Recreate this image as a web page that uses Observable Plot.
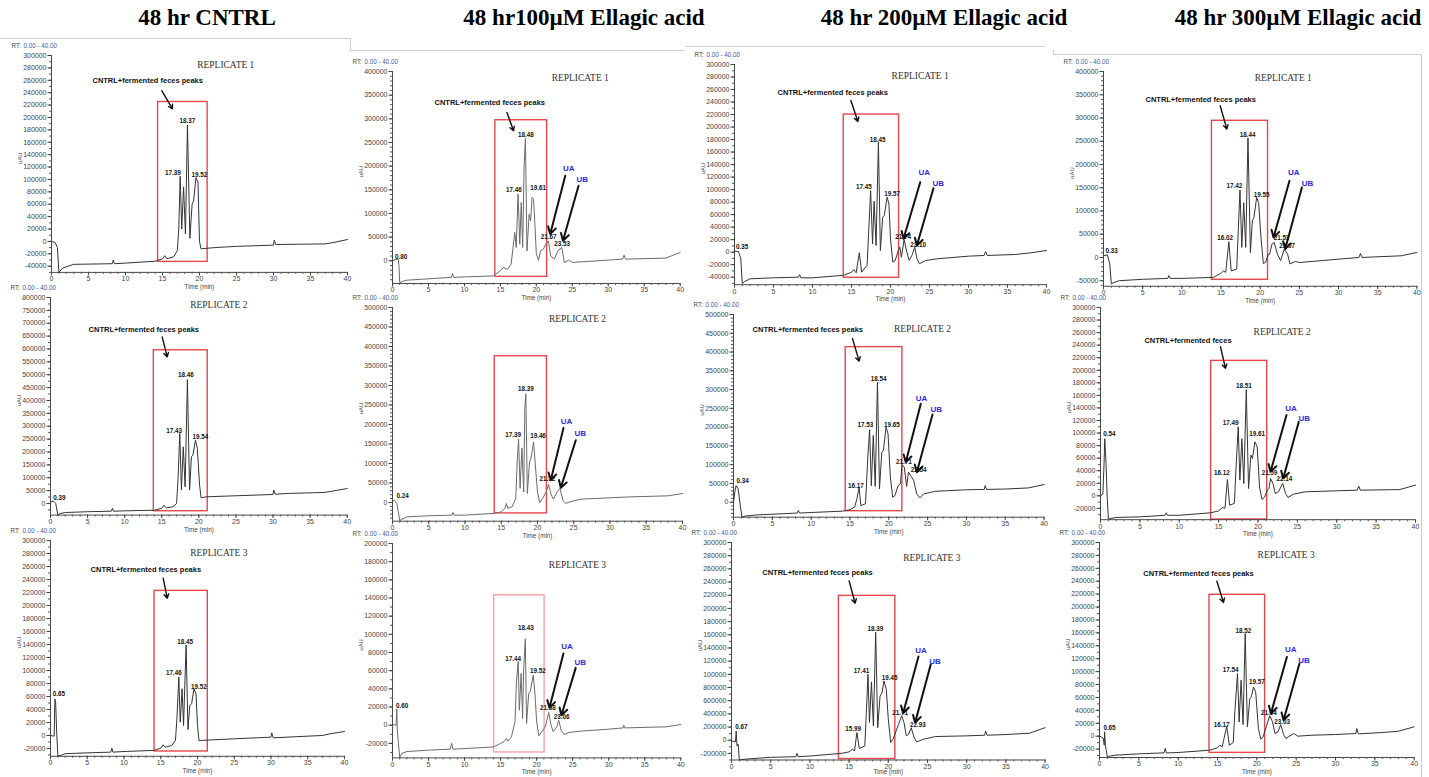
<!DOCTYPE html>
<html><head><meta charset="utf-8">
<script src="https://cdn.jsdelivr.net/npm/d3@7"></script>
<script src="https://cdn.jsdelivr.net/npm/@observablehq/plot@0.6"></script>
<style>
body{margin:0;background:#fff;}
#fig{position:relative;width:1429px;height:777px;overflow:hidden;background:#fff;}
.hdr{position:absolute;top:5px;font-family:"Liberation Serif","Times New Roman",serif;font-weight:bold;font-size:23px;color:#000;white-space:nowrap;transform:translateX(-50%);}
.gl{position:absolute;background:#cfcfcf;}
.pn{position:absolute;}
</style></head><body><div id="fig"></div>
<script>
// ---------- DATA ----------
const columnTitles = ["48 hr CNTRL", "48 hr100µM Ellagic acid", "48 hr 200µM Ellagic acid", "48 hr 300µM Ellagic acid"];
const replicateTitles = ["REPLICATE 1", "REPLICATE 2", "REPLICATE 3"];
const xMajorTicks = [0, 5, 10, 15, 20, 25, 30, 35, 40];
const xMinorTicks = d3.range(0, 41, 1);
const noteText = "CNTRL+fermented feces peaks";

// y axis: [min, max, labelled step, minor step]
const yAxis00 = [-50000, 300000, 20000, 10000];
const yAxis01 = [-48000, 400000, 50000, 10000];
const yAxis02 = [-52000, 300000, 20000, 10000];
const yAxis03 = [-62000, 400000, 50000, 10000];
const yAxis10 = [-45000, 800000, 50000, 25000];
const yAxis11 = [-48000, 500000, 50000, 10000];
const yAxis12 = [-40000, 500000, 50000, 10000];
const yAxis13 = [-38000, 300000, 20000, 10000];
const yAxis20 = [-32000, 300000, 20000, 10000];
const yAxis21 = [-36000, 200000, 20000, 10000];
const yAxis22 = [-30000, 300000, 20000, 10000];
const yAxis23 = [-33000, 300000, 20000, 10000];
const tickLabels22 = ["-200000","0","200000","400000","600000","800000","100000","120000","140000","160000","180000","200000","220000","240000","260000","280000","300000"];

// traces [time (min), uAU]
const trace00 = [[0,0],[0.5,-2000],[0.8,-10000],[1.0,-50000],[1.5,-43000],[3,-37000],[8.2,-36000],[8.35,-30000],[8.5,-36000],[10,-35000],[14,-32000],[15,-28000],[15.3,-23000],[15.6,-28000],[16.5,-25000],[17,-15000],[17.2,20000],[17.39,105000],[17.6,20000],[17.85,88000],[18.1,12000],[18.37,188000],[18.7,5000],[19.0,60000],[19.2,65000],[19.52,103000],[19.8,95000],[20.0,0],[20.2,-12000],[22,-10000],[25,-8000],[30,-6000],[30.1,2000],[30.3,-5000],[37,-4000],[38,-2000],[40,3000]];
const trace01 = [[0,0],[0.5,3000],[0.8,3000],[0.9,-10000],[1.0,-46000],[1.3,-44000],[2,-41000],[8.2,-35000],[8.35,-27000],[8.5,-35000],[14,-32000],[15,-21000],[15.4,-14000],[16,-18000],[16.5,-7000],[17,60000],[17.2,28000],[17.46,141000],[17.7,35000],[17.9,123000],[18.1,28000],[18.3,200000],[18.48,259000],[18.7,21000],[19.0,98000],[19.2,84000],[19.4,134000],[19.61,130000],[19.8,77000],[20.0,14000],[20.3,1000],[20.6,21000],[21.0,25000],[21.3,35000],[21.67,42000],[22.0,10000],[22.5,3500],[23.0,21000],[23.53,28000],[23.9,-3500],[24.5,1400],[25,-3500],[30,1400],[32,3500],[32.2,12000],[32.4,3500],[38,5600],[40,17600]];
const trace02 = [[0,1600],[0.5,1000],[0.8,-10000],[1.0,-50000],[1.3,-47000],[2,-42600],[5,-41000],[8.2,-40000],[8.35,-36000],[8.5,-41000],[10,-41000],[13,-38000],[14,-37000],[15,-32000],[15.3,-28000],[15.6,-33000],[16.0,-1000],[16.3,-32000],[17,-21000],[17.2,32000],[17.45,98500],[17.7,13000],[17.9,81500],[18.15,10600],[18.45,176000],[18.7,2600],[19.0,56000],[19.2,58600],[19.57,88000],[19.8,77000],[20.0,21000],[20.3,-16000],[20.6,-13300],[21.0,2600],[21.2,8000],[21.4,-8000],[21.74,20000],[22.1,0],[22.4,-13300],[22.8,-4000],[23.1,8000],[23.4,-10600],[23.7,-18600],[24.5,-13300],[26,-10600],[30,-6400],[32,-5300],[32.2,1000],[32.4,-5300],[36,-3700],[38,-1000],[40,2600]];
const trace03 = [[0,3600],[0.5,5700],[0.8,-14000],[1.0,-57000],[1.3,-54000],[2,-50000],[5,-47000],[8.2,-45000],[8.35,-39000],[8.5,-45000],[10,-45000],[14,-43000],[15,-34000],[15.3,-29000],[15.6,-32000],[16.0,34000],[16.3,-29000],[17,-25000],[17.2,57000],[17.42,145000],[17.65,21500],[17.9,118000],[18.15,21500],[18.44,257000],[18.75,10700],[19.0,79000],[19.2,86000],[19.55,129000],[19.8,118000],[20.1,43000],[20.4,-13000],[20.7,-10700],[21.0,5700],[21.2,7000],[21.5,28700],[21.8,32000],[22.2,7000],[22.6,-7000],[23.07,18000],[23.5,7000],[23.8,-14000],[24.5,-8600],[25,-11000],[30,-3600],[32.6,0],[32.8,8600],[33,0],[38,3600],[40,10700]];
const trace10 = [[0,6500],[0.39,9000],[0.7,0],[1.0,-45000],[1.3,-39000],[2,-35000],[5,-32000],[8.2,-30000],[8.35,-19000],[8.5,-30000],[10,-28500],[14,-26000],[15,-19000],[15.3,-6500],[15.6,-17000],[16.5,-13000],[17,0],[17.2,97000],[17.43,272000],[17.65,52000],[17.9,220000],[18.15,65000],[18.46,481000],[18.75,52000],[19.0,181000],[19.2,188000],[19.54,246000],[19.8,214000],[20.1,71000],[20.3,22000],[21,26000],[25,30000],[30,35000],[30.1,52000],[30.3,36000],[32,39000],[37,43000],[38,48000],[40,58000]];
const trace11 = [[0,1700],[0.24,6000],[0.6,-2600],[0.8,-24000],[1.0,-47000],[1.3,-43000],[2,-37000],[5,-34000],[8.2,-32500],[8.35,-25600],[8.5,-32500],[10,-32500],[14,-28000],[15,-24000],[15.5,-15000],[15.7,-2600],[15.9,-15000],[16.5,-11000],[17,10000],[17.2,104000],[17.39,162000],[17.6,36000],[17.85,140000],[18.1,27000],[18.25,241000],[18.39,279000],[18.6,23000],[18.9,104000],[19.1,113000],[19.46,155000],[19.7,96000],[20.0,27000],[20.3,0],[20.7,10000],[21.2,27000],[21.52,46000],[21.9,19000],[22.2,8500],[22.7,27000],[23.1,36000],[23.5,6000],[23.9,-2600],[24.5,1700],[26,8500],[30,12000],[33,14500],[38,17000],[40,23000]];
const trace12 = [[0,0],[0.2,31000],[0.34,44000],[0.6,35500],[0.9,-13000],[1.1,-40000],[1.5,-37000],[3,-34000],[8.2,-29000],[8.35,-22000],[8.5,-29000],[10,-27500],[14,-24000],[15,-20000],[15.6,-13000],[15.9,9000],[16.17,40000],[16.4,-9000],[17,-4400],[17.3,120000],[17.53,193000],[17.75,44000],[18.0,178000],[18.25,42000],[18.54,320000],[18.8,35500],[19.1,133000],[19.3,138000],[19.65,200000],[19.9,182000],[20.2,67000],[20.5,13000],[20.8,18000],[21.2,44000],[21.5,49000],[21.71,100000],[22.0,93000],[22.3,42000],[22.54,80000],[22.9,68000],[23.2,58000],[23.6,22000],[24.0,11500],[24.5,22000],[26,29000],[30,33000],[32.3,34000],[32.4,44000],[32.6,34000],[35,35000],[38,38000],[40,47000]];
const trace13 = [[0,0],[0.3,2600],[0.45,51500],[0.54,91000],[0.7,51500],[0.85,-1600],[1.0,-37000],[1.3,-36000],[2,-34500],[5,-33500],[8.2,-31000],[8.35,-27000],[8.5,-31000],[10,-31000],[14,-27000],[15,-24000],[15.5,-18600],[15.8,-20000],[16.12,26000],[16.4,-15000],[17,-12000],[17.2,41000],[17.49,110000],[17.7,25000],[17.95,91000],[18.2,19600],[18.51,169000],[18.8,11700],[19.1,65000],[19.3,59500],[19.61,86000],[19.9,78000],[20.2,14000],[20.5,-5800],[20.8,-2600],[21.2,9000],[21.4,11700],[21.59,27600],[21.9,19600],[22.2,3700],[22.6,6400],[22.9,14000],[23.14,19600],[23.5,3700],[23.8,-2600],[24.5,2600],[26,6400],[30,8000],[32.6,9000],[32.8,15400],[33,9000],[38,10000],[40,17000]];
const trace20 = [[0,0],[0.5,-1000],[0.6,56000],[0.7,51000],[0.85,2600],[1.0,-31500],[1.3,-31000],[2,-28000],[5,-26700],[8.2,-25600],[8.35,-19500],[8.5,-25600],[10,-24600],[14,-23000],[15,-19500],[15.3,-14400],[15.6,-18000],[16.5,-15400],[17,-7700],[17.2,25600],[17.46,90000],[17.65,20500],[17.9,72000],[18.1,15400],[18.45,139500],[18.7,9200],[18.95,46000],[19.2,49000],[19.52,72000],[19.8,64000],[20.0,15400],[20.2,-7700],[22,-6700],[25,-5100],[30,-2600],[30.1,4100],[30.3,-3600],[35,-1000],[37,0],[38,2600],[40,6100]];
const trace21 = [[0,700],[0.5,0],[0.6,18000],[0.65,-3600],[0.8,-18000],[1.0,-35500],[1.3,-31000],[2,-29000],[5,-27500],[8.0,-26400],[8.2,-20000],[8.4,-26400],[10,-25700],[14,-24000],[15,-20000],[15.5,-18000],[15.8,-14700],[16.0,-17500],[16.5,-12800],[17,3700],[17.2,47700],[17.44,70000],[17.6,16500],[17.85,57000],[18.05,7300],[18.2,62000],[18.43,95000],[18.6,1800],[18.9,35000],[19.1,36700],[19.52,55000],[19.75,36700],[20.0,3700],[20.3,-11700],[20.7,-7300],[21.2,-1800],[21.68,14000],[22.0,0],[22.3,-7300],[22.8,-1800],[23.06,5500],[23.4,-5500],[23.8,-10300],[24.5,-8000],[26,-6600],[30,-4400],[32,-3000],[32.1,0],[32.2,-3000],[38,-1800],[40,700]];
const trace22 = [[0,-1000],[0.5,-2500],[0.6,14000],[0.7,-8600],[0.85,-6000],[1.0,-30000],[1.3,-29500],[2,-28500],[5,-26000],[8.2,-25000],[8.35,-20000],[8.5,-25000],[10,-24000],[14,-20000],[15,-17700],[15.4,-13700],[15.7,-16000],[15.99,11600],[16.3,-12600],[17,-8600],[17.2,42000],[17.41,100000],[17.6,27000],[17.85,88500],[18.1,21700],[18.39,164000],[18.65,19000],[18.95,67000],[19.2,72000],[19.45,90000],[19.75,77000],[20.0,32000],[20.3,-3500],[20.6,1500],[21.0,14000],[21.3,24000],[21.71,37000],[22.0,27000],[22.3,6600],[22.6,9000],[22.93,19000],[23.3,4000],[23.6,-2500],[24.5,1500],[26,5600],[30,6600],[32.3,7600],[32.4,14000],[32.6,7600],[35,8600],[38,10600],[40,19000]];
const trace23 = [[0,500],[0.5,-3600],[0.6,-14000],[0.65,6700],[0.75,-14000],[1.0,-32500],[1.3,-31000],[2,-29400],[5,-27400],[8.2,-25800],[8.35,-19000],[8.5,-26000],[10,-25300],[14,-21700],[15,-18000],[15.3,-14000],[15.6,-16500],[16.17,15500],[16.5,-14000],[17,-9800],[17.2,37700],[17.54,97000],[17.75,22000],[18.0,86700],[18.25,18000],[18.52,159000],[18.8,14500],[19.1,58000],[19.3,61000],[19.57,76000],[19.85,68700],[20.2,11900],[20.5,-4600],[20.8,-1000],[21.2,14500],[21.64,31500],[22.0,22000],[22.3,4100],[22.7,6700],[23.03,18000],[23.4,2600],[23.7,-3600],[24.2,500],[24.7,4100],[25.2,0],[27,1500],[30,2600],[32.6,4100],[32.7,11900],[32.9,3600],[36,5700],[38,7700],[40,14500]];

// highlight boxes [t1, t2, v1, v2]
const box00 = [14.4, 21.1, -33000, 225000];
const box01 = [14.3, 21.5, -34000, 297000];
const box02 = [14.0, 21.1, -41000, 220000];
const box03 = [13.84, 21.0, -48000, 294000];
const box10 = [13.93, 21.2, -30000, 595000];
const box11 = [14.1, 21.3, -28000, 375000];
const box12 = [14.45, 21.75, -24000, 413000];
const box13 = [14.05, 21.17, -37700, 215000];
const box20 = [14.15, 21.4, -24600, 222500];
const box21 = [14.1, 21.1, -30000, 143000];
const box22 = [13.7, 20.9, -28500, 219000];
const box23 = [13.98, 21.05, -25800, 219000];

// replicate title anchors [t, v]
const title00 = [23.55, 285500], title01 = [26.1, 385400], title02 = [23.8, 281300], title03 = [22.94, 385800];
const title10 = [22.69, 772800], title11 = [25.52, 471800], title12 = [24.34, 462000], title13 = [23.07, 260300];
const title20 = [22.9, 281100], title21 = [25.66, 176200], title22 = [25.55, 276200], title23 = [23.73, 281400];

// annotation text [t, v, text] and its arrow [t1, v1, t2, v2]
const note00 = [13.0, 259600, noteText], noteArrow00 = [14.9, 243300, 16.35, 214000];
const note01 = [13.52, 334000, noteText], noteArrow01 = [15.91, 313500, 16.83, 274800];
const note02 = [12.59, 255800, noteText], noteArrow02 = [14.92, 242500, 15.82, 208900];
const note03 = [12.41, 338500, noteText], noteArrow03 = [14.89, 326200, 15.75, 276100];
const note10 = [12.58, 676900, noteText], noteArrow10 = [15.06, 647000, 15.73, 569300];
const note12 = [9.57, 459400, noteText], noteArrow12 = [15.33, 435400, 16.18, 375700];
const note13 = [11.11, 246900, "CNTRL+fermented feces"], noteArrow13 = [15.24, 237400, 15.87, 203000];
const note20 = [12.97, 254900, noteText], noteArrow20 = [15.33, 242000, 15.88, 211200];
const note22 = [10.97, 254300, noteText], noteArrow22 = [15.0, 241700, 15.77, 207900];
const note23 = [12.58, 252000, noteText], noteArrow23 = [14.92, 240000, 15.76, 207100];

// retention-time labels [t, v, label]
const peaks00 = [[18.35,195100,"18.37"],[16.39,111000,"17.39"],[19.97,108000,"19.52"]];
const peaks01 = [[18.53,266400,"18.48"],[16.86,150100,"17.46"],[20.26,154300,"19.61"],[21.72,50700,"21.67"],[23.6,35900,"23.53"],[1.21,8500,"0.80"]];
const peaks02 = [[18.36,180100,"18.45"],[16.59,103900,"17.45"],[20.22,93800,"19.57"],[21.63,24000,"21.74"],[23.55,10700,"23.10"],[0.99,8000,"0.35"]];
const peaks03 = [[18.4,263900,"18.44"],[16.71,152700,"17.42"],[20.19,134800,"19.55"],[15.53,41700,"16.02"],[22.72,41700,"21.53"],[23.45,25200,"23.07"],[1.05,14400,"0.33"]];
const peaks10 = [[18.24,498300,"18.46"],[16.68,281900,"17.43"],[20.22,258600,"19.54"],[1.19,21700,"0.39"]];
const peaks11 = [[18.39,292300,"18.39"],[16.63,172600,"17.39"],[20.07,170800,"19.46"],[21.35,59000,"21.52"],[1.38,16900,"0.24"]];
const peaks12 = [[18.69,328800,"18.54"],[16.97,204400,"17.53"],[20.41,206200,"19.65"],[15.75,42600,"16.17"],[21.93,108400,"21.71"],[23.84,87100,"22.54"],[1.16,55200,"0.34"]];
const peaks13 = [[18.2,174800,"18.51"],[16.51,115300,"17.49"],[19.9,98300,"19.61"],[15.4,35700,"16.12"],[21.46,36600,"21.59"],[23.34,26100,"22.14"],[1.12,98300,"0.54"]];
const peaks20 = [[18.33,144600,"18.45"],[16.78,95800,"17.46"],[20.18,75400,"19.52"],[1.13,63500,"0.65"]];
const peaks21 = [[18.49,107200,"18.43"],[16.73,72700,"17.44"],[20.18,59500,"19.52"],[21.57,19100,"21.68"],[23.48,8500,"23.06"],[1.32,20900,"0.60"]];
const peaks22 = [[18.34,168400,"18.39"],[16.58,105200,"17.41"],[20.17,94100,"19.45"],[15.5,16700,"15.99"],[21.51,41000,"21.71"],[23.76,22800,"22.93"],[1.25,20600,"0.67"]];
const peaks23 = [[18.3,162600,"18.52"],[16.68,102200,"17.54"],[20.0,83200,"19.57"],[15.51,18100,"16.17"],[21.53,36700,"21.64"],[23.22,22100,"23.03"],[1.27,12900,"0.65"]];

// UA / UB tags [t, v, text] and arrows [t1, v1, t2, v2]
const tags01 = [[24.5,194500,"UA"],[26.38,171200,"UB"]], tagArrows01 = [[24.02,179700,21.93,56400],[25.87,158600,23.70,42300]];
const tags02 = [[24.32,126900,"UA"],[26.12,109300,"UB"]], tagArrows02 = [[23.81,111900,21.67,21400],[25.51,102300,23.38,10700]];
const tags03 = [[24.28,182800,"UA"],[26.04,159100,"UB"]], tagArrows03 = [[23.74,164900,21.70,43000],[25.32,150500,23.19,18100]];
const tags11 = [[24.01,206700,"UA"],[25.9,176900,"UB"]], tagArrows11 = [[23.59,191300,21.83,57200],[25.28,159700,23.21,37400]];
const tags12 = [[24.22,275500,"UA"],[26.12,247000,"UB"]], tagArrows12 = [[24.12,262200,22.19,106600],[25.63,233700,23.61,79900]];
const tags13 = [[24.19,139200,"UA"],[25.88,123300,"UB"]], tagArrows13 = [[23.62,128600,21.59,38200],[25.18,117900,23.2,27700]];
const tags21 = [[24.2,87000,"UA"],[26.05,69100,"UB"]], tagArrows21 = [[23.72,79000,21.78,19100],[25.42,63100,23.44,11000]];
const tags22 = [[24.18,136600,"UA"],[25.96,118800,"UB"]], tagArrows22 = [[23.85,126900,21.89,41000],[25.42,115300,23.42,26700]];
const tags23 = [[24.3,134300,"UA"],[26.0,117700,"UB"]], tagArrows23 = [[23.82,122800,21.79,35200],[25.42,112600,23.39,24800]];

// ---------- LAYOUT (pixel placement of each plot frame: x at t=0, x at t=40, y top, y bottom) ----------
const panels = [
  {r:0,c:0, frame:[50.7,346.7,55,271.9], yAxis:yAxis00, trace:trace00, box:box00, title:title00, note:note00, noteArrow:noteArrow00, peaks:peaks00},
  {r:0,c:1, frame:[392.3,680,70.7,282.7], yAxis:yAxis01, trace:trace01, box:box01, title:title01, note:note01, noteArrow:noteArrow01, peaks:peaks01, tags:tags01, tagArrows:tagArrows01},
  {r:0,c:2, frame:[734.3,1046.3,64,284.2], yAxis:yAxis02, trace:trace02, box:box02, title:title02, note:note02, noteArrow:noteArrow02, peaks:peaks02, tags:tags02, tagArrows:tagArrows02},
  {r:0,c:3, frame:[1103.3,1416.7,70.7,285.5], yAxis:yAxis03, trace:trace03, box:box03, title:title03, note:note03, noteArrow:noteArrow03, peaks:peaks03, tags:tags03, tagArrows:tagArrows03},
  {r:1,c:0, frame:[50,346.7,297.3,514.9], yAxis:yAxis10, trace:trace10, box:box10, title:title10, note:note10, noteArrow:noteArrow10, peaks:peaks10},
  {r:1,c:1, frame:[391.7,681.7,307.3,521.0], yAxis:yAxis11, trace:trace11, box:box11, title:title11, peaks:peaks11, tags:tags11, tagArrows:tagArrows11},
  {r:1,c:2, frame:[732.7,1043.3,314,516.7], yAxis:yAxis12, trace:trace12, box:box12, title:title12, note:note12, noteArrow:noteArrow12, peaks:peaks12, tags:tags12, tagArrows:tagArrows12},
  {r:1,c:3, frame:[1100,1415,307.4,519.6], yAxis:yAxis13, trace:trace13, box:box13, title:title13, note:note13, noteArrow:noteArrow13, peaks:peaks13, tags:tags13, tagArrows:tagArrows13},
  {r:2,c:0, frame:[50,344,540,755.8], yAxis:yAxis20, trace:trace20, box:box20, title:title20, note:note20, noteArrow:noteArrow20, peaks:peaks20},
  {r:2,c:1, frame:[391.7,680,543.3,757.7], yAxis:yAxis21, trace:trace21, box:box21, title:title21, peaks:peaks21, tags:tags21, tagArrows:tagArrows21, boxColor:"#f2a3a6"},
  {r:2,c:2, frame:[730.7,1044.3,541.6,759.1], yAxis:yAxis22, trace:trace22, box:box22, title:title22, note:note22, noteArrow:noteArrow22, peaks:peaks22, tags:tags22, tagArrows:tagArrows22, tickLabels:tickLabels22},
  {r:2,c:3, frame:[1099.3,1414,542.3,757.3], yAxis:yAxis23, trace:trace23, box:box23, title:title23, note:note23, noteArrow:noteArrow23, peaks:peaks23, tags:tags23, tagArrows:tagArrows23}
];
const headerCenters = [207, 584, 944, 1298];
const lineColors = ["#333", "#6a6a6a", "#333", "#333"];
const SANS = '"Liberation Sans", Arial, sans-serif';
const SERIF = '"Liberation Serif", "Times New Roman", serif';
const FIG_H = 777;

const fig = document.getElementById("fig");

// frame lines from the pasted screenshots
[[0,38,350,1],[350,38,1,12],[350,50,335,1],[685,46,360,1],[1053,50,1,4],[1053,54,368,1],[1421,54,1,723]].forEach(([l,t,w,h]) => {
  const d = document.createElement("div"); d.className = "gl";
  Object.assign(d.style, {left:l+"px", top:t+"px", width:w+"px", height:h+"px"});
  fig.appendChild(d);
});

columnTitles.forEach((t, i) => {
  const d = document.createElement("div"); d.className = "hdr"; d.textContent = t;
  d.style.left = headerCenters[i] + "px";
  fig.appendChild(d);
});

const X = d => d[0], Y = d => d[1], T = d => d[2];

panels.forEach(p => {
  const [x0, x40, top, bottom] = p.frame;
  const mL = 46, mR = 14, mT = 22, mB = 26;
  const W = x40 - x0 + mL + mR, H = bottom - top + mT + mB;
  const [ymin, ymax, step, minor] = p.yAxis;
  const majors = d3.range(Math.ceil(ymin / step) * step, ymax + 1, step);
  const minors = d3.range(Math.ceil(ymin / minor) * minor, ymax + 1, minor);
  const fmt = p.tickLabels ? (d => p.tickLabels[majors.indexOf(d)]) : (d => String(d));
  const timeDy = Math.min(16.5, FIG_H - 3.6 - bottom);
  const marks = [
    Plot.rect([p.box], {x1: d => d[0], x2: d => d[1], y1: d => d[2], y2: d => d[3], fill: "none", stroke: p.boxColor || "#e8454d", strokeWidth: 1.4}),
    Plot.line(p.trace, {x: X, y: Y, stroke: lineColors[p.c], strokeWidth: 1}),
    Plot.ruleX([0], {stroke: "#333", strokeWidth: 0.9}),
    Plot.ruleY([ymin], {stroke: "#333", strokeWidth: 0.9}),
    Plot.axisY({ticks: minors, tickSize: 2, tickFormat: () => "", label: null, color: "#555"}),
    Plot.axisY({ticks: majors, tickSize: 3.5, tickPadding: 1.5, tickFormat: fmt, label: null, fontSize: 7, fontFamily: SANS, color: "#444"}),
    Plot.axisX({ticks: xMinorTicks, tickSize: 2, tickFormat: () => "", label: null, color: "#555"}),
    Plot.axisX({ticks: xMajorTicks, tickSize: 3.5, tickPadding: 0.5, label: null, fontSize: 7, fontFamily: SANS, color: "#444", tickFormat: d => String(d)}),
    Plot.text(["RT:"], {text: d => d, frameAnchor: "top-left", textAnchor: "start", dx: -40, dy: -12, fontSize: 6.3, fontFamily: SANS, fill: "#444"}),
    Plot.text(["0.00 - 40.00"], {text: d => d, frameAnchor: "top-left", textAnchor: "start", dx: -28, dy: -12, fontSize: 6.3, fontFamily: SANS, fill: "#3a5aa8"}),
    Plot.text(["uAU"], {text: d => d, frameAnchor: "left", rotate: -90, dx: -31, fontSize: 6, fontFamily: SANS, fill: "#444"}),
    Plot.text(["Time (min)"], {text: d => d, frameAnchor: "bottom", dy: timeDy, fontSize: 6.3, fontFamily: SANS, fill: "#444"}),
    Plot.text([p.title], {x: X, y: Y, text: () => replicateTitles[p.r], fontSize: 9.5, fontFamily: SERIF, fill: "#333"}),
    Plot.text(p.peaks, {x: X, y: Y, text: T, fontSize: 6.3, fontWeight: "bold", fontFamily: SANS, fill: "#111"})
  ];
  if (p.note) {
    marks.push(Plot.text([p.note], {x: X, y: Y, text: T, fontSize: 7.5, fontWeight: "bold", fontFamily: SANS, fill: "#111"}));
    marks.push(Plot.arrow([p.noteArrow], {x1: d => d[0], y1: d => d[1], x2: d => d[2], y2: d => d[3], stroke: "#111", strokeWidth: 1.4, headLength: 5}));
  }
  if (p.tags) {
    marks.push(Plot.arrow(p.tagArrows, {x1: d => d[0], y1: d => d[1], x2: d => d[2], y2: d => d[3], stroke: "#111", strokeWidth: 2, headLength: 6}));
    marks.push(Plot.text(p.tags, {x: X, y: Y, text: T, fontSize: 8, fontWeight: "bold", fontFamily: SANS, fill: "#2b2be6"}));
  }
  const svg = Plot.plot({
    width: W, height: H,
    marginLeft: mL, marginRight: mR, marginTop: mT, marginBottom: mB,
    x: {domain: [0, 40]},
    y: {domain: [ymin, ymax]},
    style: {background: "transparent", overflow: "visible", maxWidth: "none", fontFamily: SANS},
    marks
  });
  const div = document.createElement("div"); div.className = "pn";
  Object.assign(div.style, {left: (x0 - mL) + "px", top: (top - mT) + "px", width: W + "px", height: H + "px"});
  div.appendChild(svg);
  fig.appendChild(div);
});
</script></body></html>
